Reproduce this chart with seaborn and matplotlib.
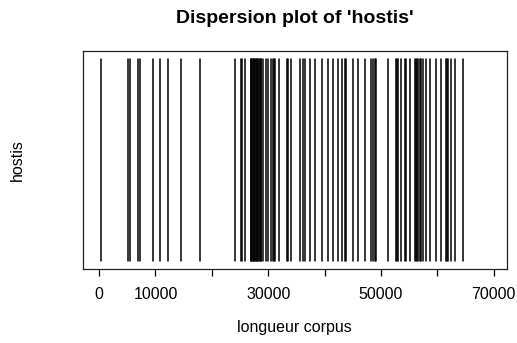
import numpy as np
import pandas as pd
import matplotlib
matplotlib.use("Agg")
import matplotlib.pyplot as plt
import seaborn as sns

# Word offsets of each occurrence of 'hostis' in the corpus
offsets = [
    300, 5140, 5500, 6990, 7270, 9650, 10890, 12300, 14610, 17860,
    24150, 25120, 25420, 25830,
    26900, 27000, 27150, 27300, 27400, 27550, 27700, 27800, 27950, 28100,
    28250, 28400, 28500, 28650, 28790,
    29080, 29680, 29960, 30570, 30800, 30970, 31150, 31910, 33280, 33540,
    34080, 35590, 36170, 36470, 37360, 38330, 39570, 40550, 41490, 42410,
    43030, 43650, 43830, 45030, 45920, 47110, 48300, 48580, 48880, 49180,
    51240, 52730, 52870, 53010, 53620, 54200, 54500, 55090, 55970, 56150,
    56330, 56560, 56860, 57160, 57450, 58050, 58630, 59820, 60670, 61470,
    61650, 61880, 62450, 63150, 64540,
]
tick_values = [0, 10000, 20000, 30000, 40000, 50000, 60000, 70000]
tick_labels = ["0", "10000", "", "30000", "", "50000", "", "70000"]
word = "hostis"

n = len(offsets)
df = pd.DataFrame({
    "offset": np.repeat(offsets, 2),
    "y": np.tile([0.0, 1.0], n),
    "occ": np.repeat(np.arange(n), 2),
})

sns.set_style("white")
plt.rcParams["font.family"] = ["Liberation Sans", "DejaVu Sans"]
plt.rcParams["text.color"] = "black"
plt.rcParams["axes.labelcolor"] = "black"

fig = plt.figure(figsize=(5.17, 3.43), dpi=100)
ax = fig.add_axes([0.16, 0.216, 0.82, 0.635])

sns.lineplot(data=df, x="offset", y="y", units="occ", estimator=None,
             color="black", lw=1.1, legend=False, ax=ax)

ax.set_xlim(-2900, 72300)
ax.set_ylim(-0.04, 1.04)
ax.set_yticks([])
ax.set_xticks(tick_values)
ax.set_xticklabels(tick_labels, fontsize=11.5)
ax.tick_params(axis="x", direction="out", length=5, width=0.9, pad=8,
               bottom=True, colors="black")
for s in ax.spines.values():
    s.set_visible(True)
    s.set_color("#222222")
    s.set_linewidth(0.9)

ax.set_title(f"Dispersion plot of '{word}'", fontsize=14, fontweight="bold",
             color="black", pad=20)
ax.set_xlabel("longueur corpus", fontsize=11.5, color="black")
ax.xaxis.set_label_coords(0.5, -0.271)
ax.xaxis.label.set_va("center")
ax.set_ylabel(word, fontsize=11.5, color="black")
ax.yaxis.set_label_coords(-0.155, 0.5)
ax.yaxis.label.set_va("center")

fig.savefig("out.png", dpi=100)
